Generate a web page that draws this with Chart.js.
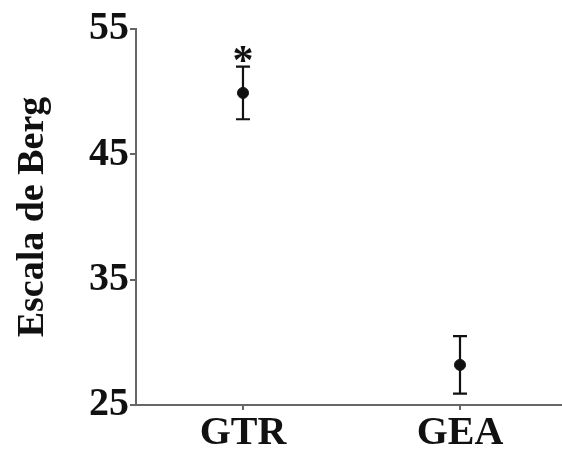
<!DOCTYPE html>
<html><head><meta charset="utf-8">
<script src="https://cdn.jsdelivr.net/npm/chart.js@4"></script>
<style>html,body{margin:0;padding:0;background:#fff;overflow:hidden}canvas{display:block}</style>
</head><body><canvas id="c" width="562" height="451" style="width:562px;height:451px"></canvas>
<script>
const categories = ['GTR', 'GEA'];
const means = [49.9, 28.2];
const upper = [52.0, 30.5];
const lower = [47.8, 25.9];
const marks = ['*', ''];
const yTicks = [25, 35, 45, 55];

const errorBars = {
  id: 'errorBars',
  afterDatasetsDraw(chart) {
    const ctx = chart.ctx, x = chart.scales.x, y = chart.scales.y;
    ctx.save();
    ctx.strokeStyle = '#111';
    ctx.lineWidth = 2.2;
    categories.forEach((c, i) => {
      const px = x.getPixelForValue(i);
      const pt = y.getPixelForValue(upper[i]);
      const pb = y.getPixelForValue(lower[i]);
      ctx.beginPath();
      ctx.moveTo(px, pt); ctx.lineTo(px, pb);
      ctx.moveTo(px - 7, pt); ctx.lineTo(px + 7, pt);
      ctx.moveTo(px - 7, pb); ctx.lineTo(px + 7, pb);
      ctx.stroke();
      if (marks[i]) {
        ctx.fillStyle = '#111';
        ctx.font = 'bold 42px "Liberation Serif"';
        ctx.textAlign = 'center';
        ctx.textBaseline = 'alphabetic';
        const m = ctx.measureText(marks[i]);
        const bottom = pt - 5;
        ctx.fillText(marks[i], px, bottom - m.actualBoundingBoxDescent);
      }
    });
    ctx.restore();
  }
};

new Chart(document.getElementById('c'), {
  type: 'scatter',
  data: {
    datasets: [{
      data: means.map((v, i) => ({x: i, y: v})),
      backgroundColor: '#111',
      borderColor: '#111',
      pointRadius: 5.5,
      showLine: false,
      clip: false
    }]
  },
  options: {
    responsive: false,
    maintainAspectRatio: false,
    devicePixelRatio: 1,
    animation: false,
    plugins: {legend: {display: false}, tooltip: {enabled: false}},
    layout: {autoPadding: false, padding: {top: 29, right: 0, bottom: 0, left: 0}},
    scales: {
      x: {
        type: 'linear',
        min: -0.493, max: 1.47,
        afterBuildTicks: s => { s.ticks = categories.map((c, i) => ({value: i})); },
        ticks: {
          callback: (v) => categories[v],
          font: {family: '"Liberation Serif"', weight: 'bold', size: 40},
          color: '#111',
          padding: 0,
          maxRotation: 0
        },
        grid: {drawOnChartArea: false, drawTicks: true, tickLength: 5, color: '#666', lineWidth: 2},
        border: {display: true, color: '#666', width: 2},
        afterFit: s => { s.height = 46; s.paddingLeft = 0; s.paddingRight = 0; }
      },
      y: {
        min: 25, max: 55,
        afterBuildTicks: s => { s.ticks = yTicks.map(v => ({value: v})); },
        ticks: {
          font: {family: '"Liberation Serif"', weight: 'bold', size: 40},
          color: '#111',
          padding: 1
        },
        grid: {drawOnChartArea: false, drawTicks: true, tickLength: 6, color: '#666', lineWidth: 2},
        border: {display: true, color: '#666', width: 2},
        title: {
          display: true,
          text: 'Escala de Berg',
          font: {family: '"Liberation Serif"', weight: 'bold', size: 38},
          color: '#111',
          padding: {top: 10, bottom: 0}
        },
        afterFit: s => { s.width = 136; }
      }
    }
  },
  plugins: [errorBars]
});
</script></body></html>
